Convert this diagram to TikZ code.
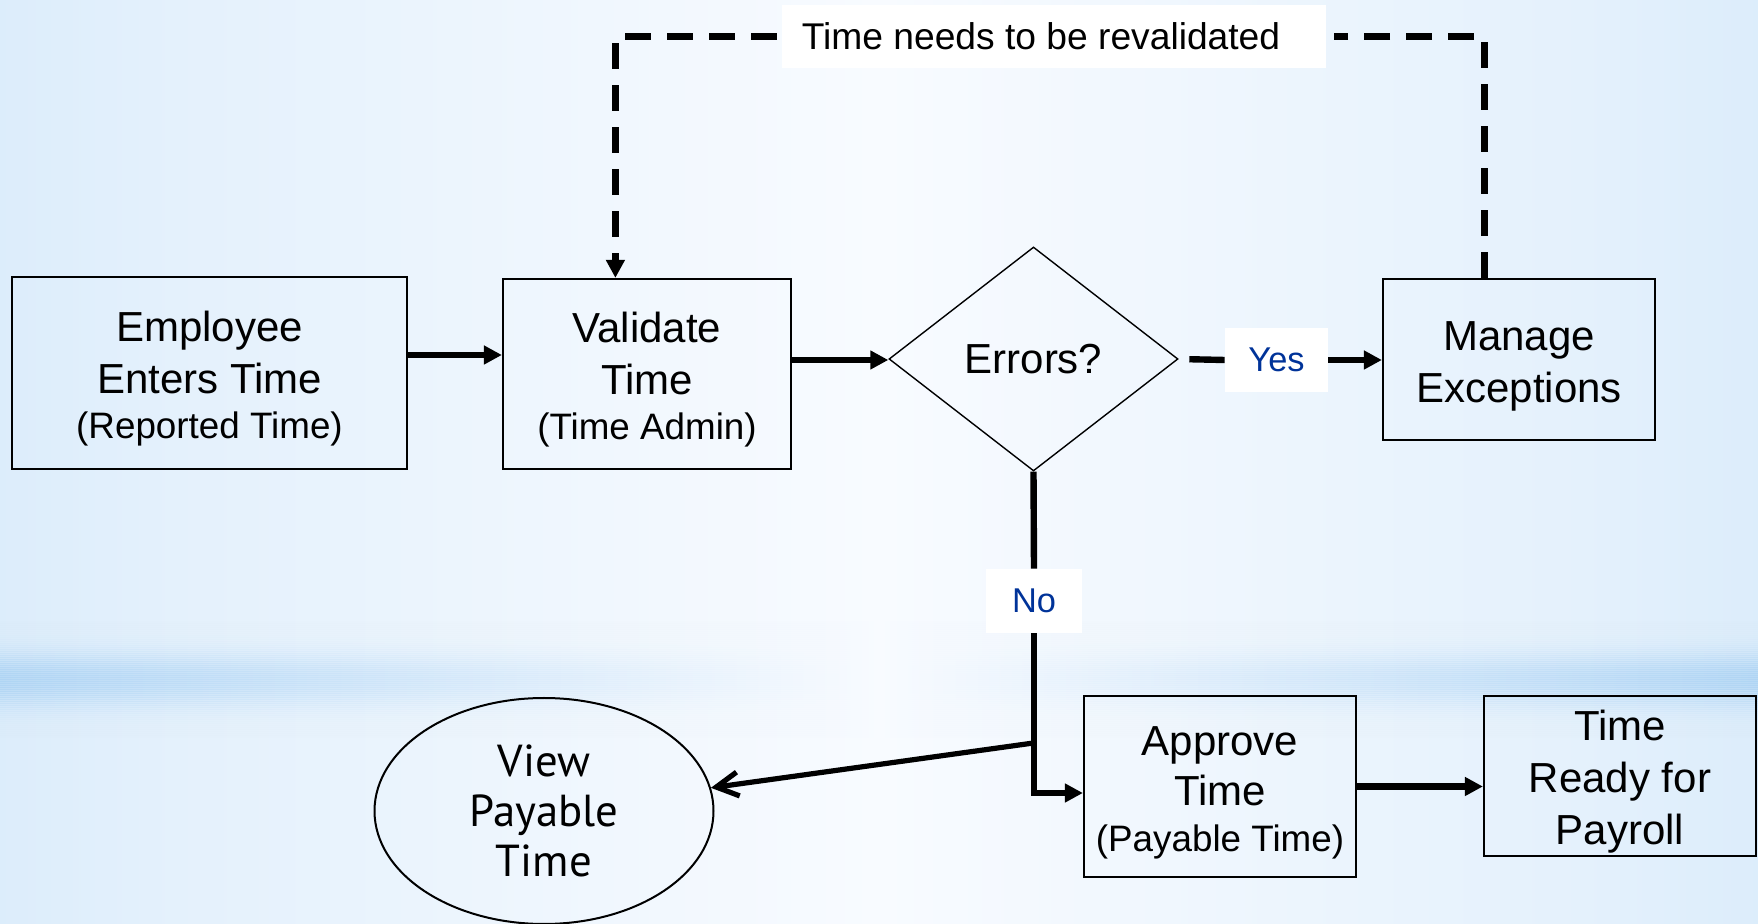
\documentclass[tikz,border=0pt]{standalone}
\usepackage{fontspec}
\setmainfont{Liberation Sans}
\newfontfamily\humanist{PT Sans}
\usetikzlibrary{shapes.geometric,arrows.meta}

\definecolor{bgedge}{RGB}{186,219,246}
\definecolor{bgmid}{RGB}{248,251,255}
\definecolor{bandblue}{RGB}{172,211,244}
\definecolor{answer}{RGB}{0,51,153}
\pgfdeclarehorizontalshading{backdrop}{100bp}{
  color(0bp)=(bgedge); color(12bp)=(bgedge!78!bgmid); color(30bp)=(bgedge!32!bgmid);
  color(50bp)=(bgmid); color(70bp)=(bgedge!32!bgmid); color(88bp)=(bgedge!78!bgmid);
  color(100bp)=(bgedge)}

% smaller line under a step name, and a strut that sets the first line lower
\newcommand\subline[1]{{\fontsize{18.4}{23}\selectfont #1}}
\newcommand\lift{\rule{0pt}{21pt}}

\begin{document}
\begin{tikzpicture}[x=0.5pt,y=-0.5pt,
  box/.style={draw=black, line width=1.1pt, rectangle, inner sep=0pt, align=center,
    font=\fontsize{21}{26}\selectfont},
  decision/.style={draw=black, line width=0.7pt, diamond, inner sep=0pt,
    font=\fontsize{21}{26}\selectfont},
  oval/.style={draw=black, line width=1pt, ellipse, inner sep=0pt, align=center,
    font=\humanist\fontsize{22.4}{25}\selectfont},
  tag/.style={fill=white, inner sep=0pt, font=\fontsize{17.2}{20}\selectfont, text=answer},
  note/.style={fill=white, inner sep=0pt, font=\fontsize{18.6}{22}\selectfont},
  plain/.style={line width=3.2pt},
  flow/.style={line width=3.4pt, -{Triangle[length=9pt,width=9pt]}},
  openflow/.style={line width=2.6pt, -{Straight Barb[length=11pt,width=12pt]}},
  loop/.style={line width=3.4pt, dash pattern=on 13pt off 8pt}
]
% canvas and background
\useasboundingbox (0,0) rectangle (1758,924);
\shade[shading=backdrop] (0,0) rectangle (1758,924);
% soft horizontal glow band, built from thin strips of varying opacity
\foreach \i in {0,...,59} {
  \pgfmathsetmacro\op{0.72*exp(-((\i-29.5)/12)^2)}
  \shade[left color=bandblue, right color=bandblue, middle color=bgmid, opacity=\op]
    (0,{620+\i*2}) rectangle (1758,{622+\i*2});
}

% process steps
\node[box, minimum width=197.5pt, minimum height=96pt] (emp) at (209.5,373)
  {\lift Employee\\Enters Time\\[-3.5pt]\subline{(Reported Time)}};
\node[box, minimum width=144pt, minimum height=95pt] (val) at (647,374)
  {\lift Validate\\Time\\[-3.3pt]\subline{(Time Admin)}};
\node[decision, minimum width=144.5pt, minimum height=112pt] (err) at (1033.5,359) {Errors?};
\node[box, minimum width=136pt, minimum height=80.5pt] (man) at (1519,359.5)
  {\lift Manage\\Exceptions};
\node[box, minimum width=136pt, minimum height=90.5pt, font=\fontsize{21}{25}\selectfont]
  (app) at (1220,786.5) {\lift Approve\\Time\\[-1.8pt]\subline{(Payable Time)}};
\node[box, minimum width=136pt, minimum height=80pt] (rdy) at (1620,776)
  {\lift Time\\Ready for\\Payroll};
\node[oval, minimum width=169.5pt, minimum height=113pt] (view) at (544,811)
  {View\\Payable\\Time};

% labels on the connectors
\node[note, minimum width=272pt, minimum height=31.5pt] (rev) at (1054,36.5)
  {Time needs to be revalidated\hspace*{13pt}};
\node[tag, minimum width=51.5pt, minimum height=32pt] (yes) at (1276.5,360) {Yes};
\node[tag, minimum width=48pt, minimum height=32pt] (no) at (1034,601) {No};

% connectors
\draw[flow] ([yshift=9pt]emp.east) -- ([yshift=9pt]emp.east -| val.west);
\draw[flow] ([yshift=7pt]val.east) -- ([yshift=7pt]val.east -| err.west);
\draw[plain, shorten <=5.3pt] (err.east) -- (yes.west);
\draw[flow] (yes.east) -- (yes.east -| man.west);
\draw[plain] (err.south) -- (no.north);
\draw[flow, line width=3pt] (no.south) |- ([yshift=-3.25pt]app.west);
\coordinate (split) at (err.south |- 0,743);
\draw[openflow] (split) -- (view);
\draw[flow] (app.east) -- (app.east -| rdy.west);

% revalidation loop
\draw[loop] ([xshift=-17.2pt]man.north) |- ([xshift=4pt]rev.east);
\draw[loop, -{Triangle[length=9pt,width=9pt]}] ([xshift=-2.5pt]rev.west) -| ([xshift=-15.8pt]val.north);
\end{tikzpicture}
\end{document}
